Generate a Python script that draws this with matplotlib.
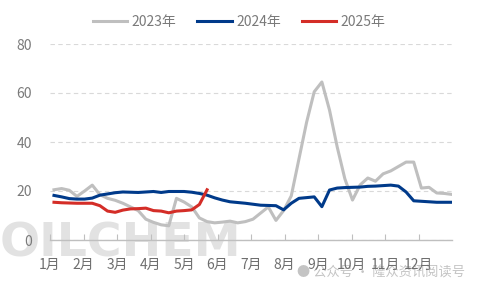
import matplotlib.pyplot as plt
import numpy as np

plt.rcParams['font.family'] = ['Noto Sans CJK SC', 'DejaVu Sans']

months = ['1月', '2月', '3月', '4月', '5月', '6月', '7月', '8月', '9月', '10月', '11月', '12月']

# weekly values
y2023 = [20.5, 21, 20.3, 17.8, 20, 22.4, 18.5, 17, 16.2, 15, 13.5, 12, 8.5, 7.2, 6.2, 5.8,
         17, 15.5, 13.5, 9, 7.5, 7, 7.3, 7.7, 7, 7.5, 8.5, 11, 13.5, 8, 12, 18,
         33, 48, 60.5, 64.5, 53, 38, 25, 16.3, 22.5, 25.3, 24, 27, 28.2, 30, 31.8, 31.8,
         21.2, 21.5, 19.2, 19, 18.6]
y2024 = [18.2, 17.6, 16.9, 16.7, 16.7, 17.1, 18.3, 18.8, 19.3, 19.6, 19.5, 19.4, 19.6, 19.8,
         19.4, 19.8, 19.8, 19.8, 19.5, 19, 18.3, 17.2, 16.3, 15.6, 15.3, 15, 14.6, 14.2,
         14.1, 14, 12.3, 15, 17, 17.3, 17.6, 13.6, 20.4, 21.2, 21.4, 21.5, 21.6, 21.9,
         22, 22.2, 22.4, 22, 19.6, 16, 15.8, 15.6, 15.4, 15.4, 15.4]
y2025 = [15.4, 15.2, 15.1, 15, 15, 15, 14, 11.8, 11.3, 12.2, 12.7, 12.8, 13, 12, 11.8,
         11.1, 11.8, 12, 12.3, 14.5, 20.5]

fig = plt.figure(figsize=(4.79, 2.88), dpi=100)

# watermarks (behind the chart)
fig.text(0.0, 0.108, 'OILCHEM', fontsize=34, fontweight='bold', color='#e2e2e2',
         zorder=-5, family='DejaVu Sans')
fig.text(0.62, 0.04, '● 公众号 · 隆众资讯阅读号', fontsize=9.5, color='#c4c4c4', zorder=-5)

ax = fig.add_axes([50 / 479, 48 / 288, 402 / 479, 196 / 288])
ax.patch.set_alpha(0)

x0, x1 = -0.52, 52
ax.plot(np.arange(len(y2023)), y2023, color='#BFBFBF', lw=2.2, label='2023年', zorder=3)
ax.plot(np.arange(len(y2024)), y2024, color='#003A8A', lw=2.2, label='2024年', zorder=4)
ax.plot(np.arange(len(y2025)), y2025, color='#D42D27', lw=2.2, label='2025年', zorder=5)

ax.set_xlim(x0, x1)
ax.set_ylim(0, 80)
ax.set_yticks([0, 20, 40, 60, 80])
ax.set_xticks(x0 + np.arange(12) * (x1 - x0) / 12)
ax.set_xticklabels(months)

ax.grid(axis='y', color='#D9D9D9', ls=(0, (4, 3)), lw=0.8)
for s in ['top', 'right', 'left']:
    ax.spines[s].set_visible(False)
ax.spines['bottom'].set_color('#BFBFBF')
ax.spines['bottom'].set_linewidth(1)
ax.tick_params(axis='y', length=0, pad=13, labelsize=10, labelcolor='#7a7a7a')
ax.tick_params(axis='x', direction='in', length=4, color='#BFBFBF', pad=13,
               labelsize=10, labelcolor='#6e6e6e')

ax.legend(loc='upper center', bbox_to_anchor=(0.47, 1.21), ncol=3, frameon=False,
          fontsize=10, handlelength=2.5, columnspacing=1.5, handletextpad=0.3,
          labelcolor='#7a7a7a')

fig.savefig('out.png', dpi=100)
